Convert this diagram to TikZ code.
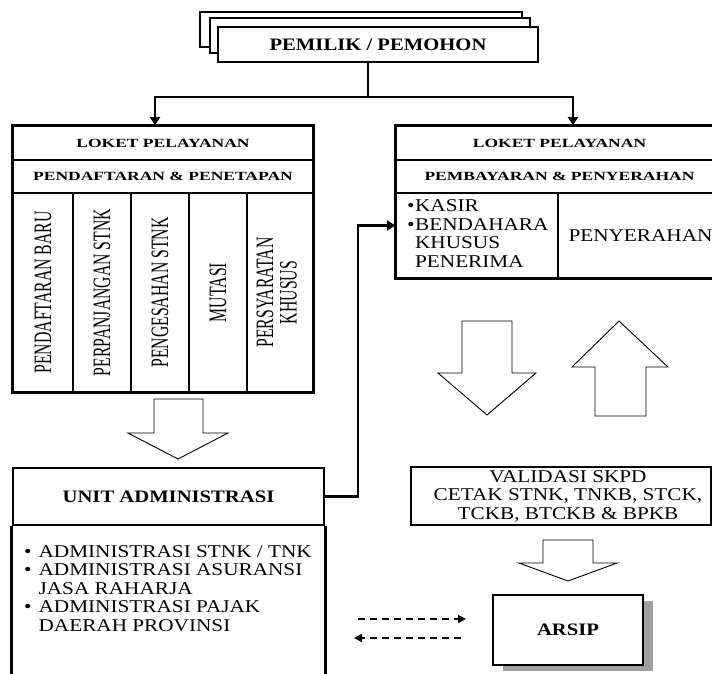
\documentclass[tikz,border=0pt]{standalone}
\usepackage{fontspec}
\setmainfont{Liberation Serif}
\newfontfamily\bodyfont[FakeStretch=1.18]{Liberation Serif}
\newfontfamily\headfont[FakeStretch=1.4]{Liberation Serif}
\newfontfamily\sidefont[FakeStretch=0.63]{Liberation Serif}
\usetikzlibrary{arrows.meta,shadows}

\tikzset{
  frame/.style={draw,line width=2.6pt,inner sep=0pt,fill=white},
  cell/.style={draw,line width=1.8pt,inner sep=0pt,align=center},
  hollow/.style={draw,line width=0.9pt,fill=white,line join=miter},
  conn/.style={line width=2.2pt,-{Triangle[length=8pt,width=10pt]}},
  backconn/.style={line width=1.8pt,dash pattern=on 7pt off 5pt,-{Triangle[length=8pt,width=8pt]}},
  headtxt/.style={font=\headfont\bfseries\fontsize{12.5}{14}\selectfont},
  titletxt/.style={font=\bodyfont\bfseries\fontsize{17.5}{20}\selectfont},
  bodytxt/.style={font=\bodyfont\fontsize{18}{18.5}\selectfont},
  sidetxt/.style={font=\sidefont\fontsize{25}{23}\selectfont},
}

\begin{document}
\begin{tikzpicture}[x=1pt,y=-1pt]
            \useasboundingbox (0,0) rectangle (712,673);
            \clip (0,0) rectangle (712,673);
            \node[frame,minimum width=322pt,minimum height=35pt] (pemC) at (361,29.5) {};
            \node[frame,minimum width=320pt,minimum height=35pt] (pemB) at (370,35.5) {};
            \node[frame,titletxt,minimum width=320pt,minimum height=35pt] (pem) at (378,44.5) {PEMILIK / PEMOHON};
            \node[cell,headtxt,minimum width=300pt,minimum height=34pt] (lokA) at (163,143) {LOKET PELAYANAN};
            \node[cell,headtxt,minimum width=300pt,minimum height=33pt] (lokA2) at (163,176.5) {PENDAFTARAN \& PENETAPAN};
            \node[cell,sidetxt,minimum width=60pt,minimum height=199pt] (colA) at (43,292.5) {\rotatebox{90}{PENDAFTARAN BARU}};
            \node[cell,sidetxt,minimum width=58pt,minimum height=199pt] (colB) at (102,292.5) {\rotatebox{90}{PERPANJANGAN STNK}};
            \node[cell,sidetxt,minimum width=58pt,minimum height=199pt] (colC) at (160,292.5) {\rotatebox{90}{PENGESAHAN STNK}};
            \node[cell,sidetxt,minimum width=58pt,minimum height=199pt] (colD) at (218,292.5) {\rotatebox{90}{MUTASI}};
            \node[cell,sidetxt,minimum width=66pt,minimum height=199pt] (colE) at (280,292.5) {\rotatebox{90}{\begin{tabular}{@{}c@{}}PERSYARATAN\\KHUSUS\end{tabular}}};
            \draw[line width=2.6pt] (lokA.north west) rectangle (colE.south east);
            \node[cell,headtxt,minimum width=327pt,minimum height=34pt] (lokB) at (559.5,143) {LOKET PELAYANAN};
            \node[cell,headtxt,minimum width=327pt,minimum height=33pt] (lokB2) at (559.5,176.5) {PEMBAYARAN \& PENYERAHAN};
            \node[cell,minimum width=162pt,minimum height=85pt] (kasir) at (477,235.5) {};
            \node[cell,bodytxt,minimum width=165pt,minimum height=85pt] (serah) at (640.5,235.5) {PENYERAHAN};
            \node[bodytxt,anchor=west,inner sep=0pt] (kasirtxt) at (407,236) {\begin{tabular}{@{}l@{\hspace{0.5pt}}l@{}}\textbullet&KASIR\\\textbullet&BENDAHARA\\&KHUSUS\\&PENERIMA\end{tabular}};
            \draw[line width=2.6pt] (lokB.north west) rectangle (serah.south east);
            \coordinate (split) at (368,97);
            \draw[line width=2.2pt] (split |- pem.south) -- (split);
            \draw[conn] (split) -| ([xshift=-8pt]lokA.north);
            \draw[conn] (split) -| ([xshift=13.5pt]lokB.north);
            \draw[hollow] (154,399)--(203,399)--(203,433)--(228,433)--(178,459)--(128,433)--(154,433)--cycle;
            \draw[hollow] (462,321)--(512,321)--(512,373)--(536,373)--(487,415)--(438,373)--(462,373)--cycle;
            \draw[hollow] (619,321)--(668,367)--(646,367)--(646,416)--(595,416)--(595,367)--(572,367)--cycle;
            \node[frame,titletxt,minimum width=311pt,minimum height=57pt] (unitT) at (168.5,496.5) {UNIT ADMINISTRASI};
            \draw[line width=2.6pt] (unitT.south west) -- ++(0,160);
            \draw[line width=2.6pt] (unitT.south east) -- ++(0,160);
            \node[bodytxt,anchor=west,inner sep=0pt] (unitL) at (24,590.5) {\begin{tabular}{@{}l@{\hspace{7pt}}l@{}}\textbullet&ADMINISTRASI STNK / TNK\\\textbullet&ADMINISTRASI ASURANSI\\&JASA RAHARJA\\\textbullet&ADMINISTRASI PAJAK\\&DAERAH PROVINSI\end{tabular}};
            \draw[conn] (unitT.east) -- ++(33,0) |- ([yshift=10pt]kasir.west);
            \node[cell,minimum width=300pt,minimum height=58pt] (valid) at (561,496) {};
            \node[bodytxt,align=center,inner sep=0pt] (validtxt) at (568,496) {VALIDASI SKPD\\CETAK STNK, TNKB, STCK,\\TCKB, BTCKB \& BPKB};
            \draw[hollow] (543,540)--(593,540)--(593,563)--(617,563)--(568,581)--(519,563)--(543,563)--cycle;
            \node[frame,titletxt,minimum width=150pt,minimum height=70pt,
              drop shadow={shadow xshift=10pt,shadow yshift=-6pt,fill=gray!75,opacity=1}] (arsip) at (568,630) {ARSIP};
            \coordinate (dA) at (358,619);
            \coordinate (dB) at (466,619);
            \coordinate (dC) at (461,638);
            \coordinate (dD) at (354,638);
            \draw[backconn] (dA) -- (dB);
            \draw[backconn] (dC) -- (dD);
        \end{tikzpicture}
\end{document}
